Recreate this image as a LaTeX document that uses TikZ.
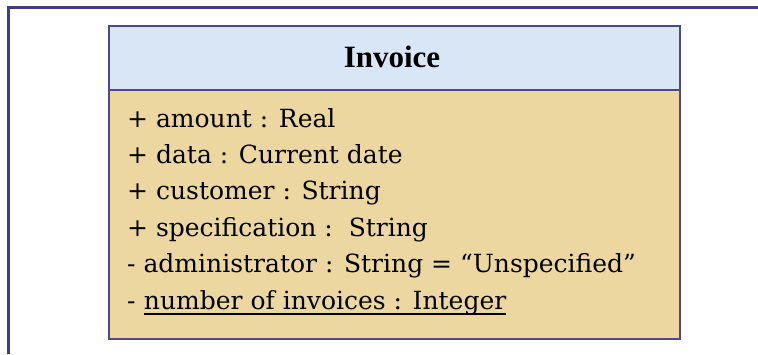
\documentclass[tikz,border=0pt]{standalone}
\usepackage{fontspec}
\setmainfont{DejaVu Serif}
\newfontfamily\titlefont{Liberation Serif}
\definecolor{framecol}{HTML}{3F3F86}
\definecolor{boxline}{HTML}{4A4A8A}
\definecolor{headfill}{HTML}{D9E6F6}
\definecolor{bodyfill}{HTML}{ECD7A0}
\tikzset{
  attr/.style={anchor=base west, inner sep=0pt, font=\fontsize{25}{30}\selectfont, text=black},
  titletext/.style={inner sep=0pt, font=\titlefont\bfseries\fontsize{31}{36}\selectfont, text=black}
}
\begin{document}
\begin{tikzpicture}[x=1pt,y=-1pt]
\useasboundingbox (0,0) rectangle (758,354);
\fill[white] (0,0) rectangle (758,354);
% outer frame
\coordinate (ftr) at (758,7.5);
\coordinate (ftl) at (8.5,7.5);
\coordinate (fbl) at (8.5,354);
\draw[framecol, line width=2.2pt] (ftr) -- (ftl) -- (fbl);
% class box
\coordinate (btl) at (108.5,25.5);
\coordinate (bbr) at (679.5,338.5);
\coordinate (dl) at (108.5,89.5);
\coordinate (dr) at (679.5,89.5);
\fill[headfill] (btl) rectangle (dr);
\fill[bodyfill] (dl) rectangle (bbr);
\draw[boxline, line width=2pt] (btl) rectangle (bbr);
\draw[boxline, line width=2pt] (dl) -- (dr);
\node[titletext] (title) at (392,57) {Invoice};
\node[attr] (a1) at (127,127) {+ amount : Real};
\node[attr] (a2) at (127,163) {+ data : Current date};
\node[attr] (a3) at (127,199.5) {+ customer : String};
\node[attr] (a4) at (127,236) {+ specification :\ \ String};
\node[attr] (a5) at (127,272.5) {- administrator : String = “Unspecified”};
\node[attr] (a6) at (127,309) {-\kern0.318em};
\node[attr] (a6u) at (a6.base east) {number of invoices : Integer};
\coordinate (ul) at ([yshift=-5pt]a6u.base west);
\coordinate (ur) at ([yshift=-5pt]a6u.base east);
\draw[black, line width=1.6pt] (ul) -- (ur);
\end{tikzpicture}
\end{document}
